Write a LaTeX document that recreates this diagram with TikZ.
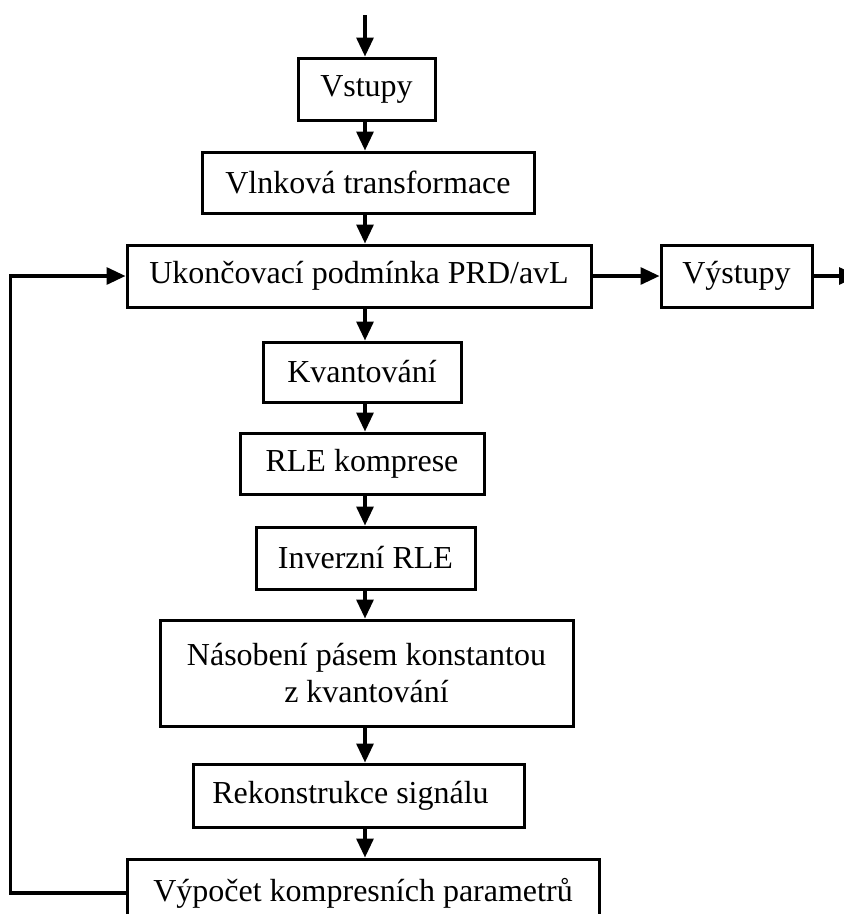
\documentclass[tikz,border=0pt]{standalone}
\usepackage{fontspec}
\setmainfont{Liberation Serif}
\usetikzlibrary{arrows.meta}

\tikzset{
  blok/.style={draw, line width=3pt, inner sep=2pt, align=center,
    font=\fontsize{32}{37}\selectfont},
  sipka/.style={line width=3.2pt, -{Triangle[length=19pt,width=17pt]}},
  cara/.style={line width=3.2pt}
}

\begin{document}
\begin{tikzpicture}[x=1pt,y=-1pt]

            \useasboundingbox (0,0) rectangle (844,914);
            \clip (0,0) rectangle (844,914);

            \coordinate (osa)   at (365,0);
            \coordinate (start) at (365,15);
            \coordinate (konec) at (858,276);

            \node[blok, minimum width=137pt, minimum height=62pt]  (vstupy)       at (366.5,89)  {Vstupy};
            \node[blok, minimum width=332pt, minimum height=61pt]  (vlnkova)      at (368,182.5) {Vlnková transformace};
            \node[blok, minimum width=464pt, minimum height=62pt]  (ukoncovaci)   at (359,276)   {Ukončovací podmínka PRD/avL};
            \node[blok, minimum width=151pt, minimum height=62pt]  (vystupy)      at (736.5,276) {Výstupy};
            \node[blok, minimum width=198pt, minimum height=60pt]  (kvantovani)   at (362,372)   {Kvantování};
            \node[blok, minimum width=244pt, minimum height=61pt]  (rle)          at (362,463.5) {RLE komprese};
            \node[blok, minimum width=219pt, minimum height=62pt]  (inverzni)     at (365.5,558) {Inverzní RLE};
            \node[blok, minimum width=413pt, minimum height=106pt] (nasobeni)     at (366.5,673) {Násobení pásem konstantou\\z kvantování};
            \node[blok, minimum width=331pt, minimum height=63pt]  (rekonstrukce) at (358.5,795.5) {Rekonstrukce signálu\hspace{16pt}};
            \node[blok, minimum width=472pt, minimum height=68pt]  (vypocet)      at (363,893)   {Výpočet kompresních parametrů};

            \draw[sipka] (start) -- (vstupy.north -| osa);
            \draw[sipka] (vstupy.south -| osa) -- (vlnkova.north -| osa);
            \draw[sipka] (vlnkova.south -| osa) -- (ukoncovaci.north -| osa);
            \draw[sipka] (ukoncovaci.south -| osa) -- (kvantovani.north -| osa);
            \draw[sipka] (kvantovani.south -| osa) -- (rle.north -| osa);
            \draw[sipka] (rle.south -| osa) -- (inverzni.north -| osa);
            \draw[sipka] (inverzni.south -| osa) -- (nasobeni.north -| osa);
            \draw[sipka] (nasobeni.south -| osa) -- (rekonstrukce.north -| osa);
            \draw[sipka] (rekonstrukce.south -| osa) -- (vypocet.north -| osa);

            \draw[sipka] (ukoncovaci.east) -- (vystupy.west);
            \draw[sipka] (vystupy.east) -- (konec);

            % zpetna vazba
            \draw[sipka] (vypocet.west) -- ++(-115,0) |- (ukoncovaci.west);

        \end{tikzpicture}
\end{document}
